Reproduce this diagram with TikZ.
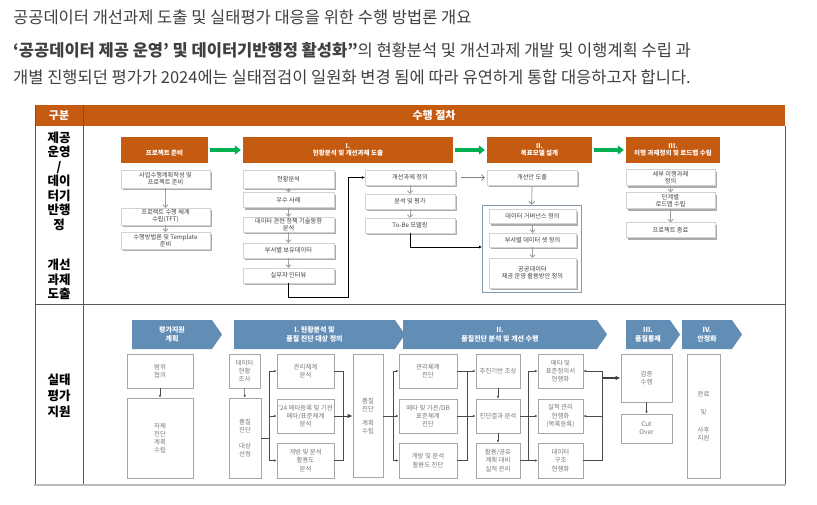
\documentclass[tikz,border=0pt]{standalone}
\usepackage{fontspec}
\setmainfont{Noto Sans CJK KR}
\usepackage{xcolor}
\usetikzlibrary{arrows.meta,shapes.symbols,shadows}
\definecolor{hdrorange}{RGB}{197,90,17}
\definecolor{stepgreen}{RGB}{0,176,80}
\definecolor{chevblue}{RGB}{98,142,182}
\definecolor{txtgray}{RGB}{64,64,64}
\definecolor{cellgray}{RGB}{120,120,120}
\definecolor{linegray}{RGB}{166,166,166}
\definecolor{grpblue}{RGB}{132,150,176}

\begin{document}
\begin{tikzpicture}[x=1pt,y=-1pt,
  lead/.style={anchor=west, inner sep=0pt, text=txtgray, font=\fontsize{16.5}{19}\selectfont},
  hdrcell/.style={fill=hdrorange, text=white, inner sep=0pt, font=\bfseries\fontsize{11}{13}\selectfont},
  rowlbl/.style={align=center, inner sep=0pt, font=\bfseries\fontsize{12.5}{14.5}\selectfont},
  stage/.style={fill=hdrorange, text=white, align=center, inner sep=0pt, minimum height=26pt, font=\bfseries\fontsize{6.5}{7.5}\selectfont},
  subbox/.style={draw=gray!35, fill=white, drop shadow={shadow xshift=2pt, shadow yshift=-2pt, fill=gray!65, opacity=1}, text=txtgray, align=center, inner sep=0pt, font=\fontsize{6.2}{7}\selectfont},
  chev/.style={signal, signal from=nowhere, signal to=east, signal pointer angle=110, fill=chevblue, text=white, align=center, inner sep=0pt, minimum height=29pt, font=\bfseries\fontsize{7}{8.5}\selectfont},
  cell/.style={draw=linegray, line width=0.8pt, fill=white, text=cellgray, align=center, inner sep=0pt, font=\fontsize{6.4}{8.2}\selectfont},
  go/.style={draw=stepgreen, line width=3.5pt, shorten <=2pt, shorten >=2pt, -{Triangle[length=6pt,width=9pt]}},
  down/.style={draw=gray!75, line width=0.9pt, -{Straight Barb[length=2.5pt,width=5pt]}},
  graylink/.style={draw=gray, line width=0.7pt, -{Straight Barb[length=3pt,width=6pt]}},
  link/.style={draw=black, line width=0.6pt, -{Latex[length=3pt,width=3pt]}},
  wire/.style={draw=gray!60!black, line width=0.6pt},
  tip/.style={wire, -{Latex[length=2.8pt,width=2.6pt]}},
  bigtip/.style={draw=gray!50!black, line width=1.3pt, -{Latex[length=5pt,width=4.5pt]}}]
\useasboundingbox (0,0) rectangle (817,504);
\fill[white] (0,0) rectangle (817,504);

\node[lead] (t1) at (13,17) {공공데이터 개선과제 도출 및 실태평가 대응을 위한 수행 방법론 개요};
\node[lead] (t2) at (13,50) {\textbf{‘공공데이터 제공 운영’  및 데이터기반행정 활성화”}의 현황분석 및 개선과제 개발 및 이행계획 수립 과};
\node[lead] (t3) at (13,77) {개별 진행되던 평가가 2024에는 실태점검이 일원화 변경 됨에 따라 유연하게 통합 대응하고자 합니다.};

\node[hdrcell, minimum width=48pt, minimum height=21pt] (gubun) at (59,115.5) {구분};
\node[hdrcell, minimum width=702pt, minimum height=21pt] (proc) at (434,115.5) {수행 절차};
\draw[draw=gray!70!black, line width=0.9pt] (35,105) -- (35,485) (83,105) -- (83,485) (35,304) -- (785,304) (785,126) -- (785,485);
\draw[draw=gray!55, line width=2pt] (34,485) -- (786,485);

\node[rowlbl] (lbl1) at (59,216) {제공\\운영\\/\\데이\\터기\\반행\\정\\[26pt]개선\\과제\\도출};
\node[rowlbl] (lbl2) at (59,396) {실태\\[1.5pt]평가\\[1.5pt]지원};

\node[stage, minimum width=87pt] (prep) at (164.5,150) {\phantom{I.}\\프로젝트 준비};
\node[stage, minimum width=210pt] (stg1) at (348,150) {I.\\현황분석 및 개선과제 도출};
\node[stage, minimum width=105pt] (stg2) at (539.5,150) {II.\\목표모델 설계};
\node[stage, minimum width=94pt] (stg3) at (673,150) {III.\\이행 과제정의 및 로드맵 수립};
\draw[go] (prep) -- (stg1);
\draw[go] (stg1) -- (stg2);
\draw[go] (stg2) -- (stg3);

\node[subbox, minimum width=89pt, minimum height=18pt] (a1) at (165.5,179) {사업수행계획작성 및\\프로젝트 준비};
\node[subbox, minimum width=89pt, minimum height=17pt] (a2) at (165.5,216.5) {프로젝트 수행 체계\\수립(TFT)};
\node[subbox, minimum width=89pt, minimum height=17pt] (a3) at (165.5,240.5) {수행방법론 및 Template\\준비};
\draw[down] (a1) -- (a2);
\draw[down] (a2) -- (a3);

\node[subbox, minimum width=91pt, minimum height=18pt] (b1) at (288.5,179) {현황분석};
\node[subbox, minimum width=91pt, minimum height=15pt] (b2) at (288.5,200) {우수 사례};
\node[subbox, minimum width=91pt, minimum height=15pt] (b3) at (288.5,224.5) {데이터 관련 정책 기술동향\\분석};
\node[subbox, minimum width=91pt, minimum height=15pt] (b4) at (288.5,250.5) {부서별 보유데이터};
\node[subbox, minimum width=91pt, minimum height=15pt] (b5) at (288.5,275.5) {실무자 인터뷰};
\draw[down] (b1) -- (b2);
\draw[down] (b2) -- (b3);
\draw[down] (b3) -- (b4);
\draw[down] (b4) -- (b5);

\node[subbox, minimum width=90pt, minimum height=15pt] (c1) at (410,177.5) {개선과제 정의};
\node[subbox, minimum width=90pt, minimum height=15pt] (c2) at (410,201.5) {분석 및 평가};
\node[subbox, minimum width=90pt, minimum height=15pt] (c3) at (410,225.5) {To-Be 모델링};
\draw[down] (c1) -- (c2);
\draw[down] (c2) -- (c3);
\coordinate (loopbot) at (348,297);
\draw[link] (b5.south) |- (loopbot) |- (c1.west);

\node[subbox, minimum width=90pt, minimum height=15pt] (d1) at (532,177.5) {개선안 도출};
\node[draw=grpblue, line width=0.8pt, minimum width=99pt, minimum height=87pt, inner sep=0pt] (grp) at (531.5,248.5) {};
\node[subbox, minimum width=87pt, minimum height=14pt] (d2) at (532.5,216.5) {데이터 거버넌스 정의};
\node[subbox, minimum width=87pt, minimum height=14pt] (d3) at (532.5,240) {부서별 데이터 셋 정의};
\node[subbox, minimum width=87pt, minimum height=30pt] (d4) at (532.5,273) {공공데이터\\제공 운영  활용방안 정의};
\draw[down] (d2) -- (d3);
\draw[down] (d3) -- (d4);
\draw[graylink, shorten <=6pt, shorten >=2pt] (c1) -- (d1);
\draw[graylink, shorten <=2pt] (d1) -- (grp);
\coordinate (grpin) at (482,247);
\draw[link] (c3.south) |- (grpin);

\node[subbox, minimum width=89pt, minimum height=16pt] (e1) at (670.5,177.5) {세부 이행과제\\정의};
\node[subbox, minimum width=89pt, minimum height=16pt] (e2) at (670.5,200.5) {단계별\\로드맵 수립};
\node[subbox, minimum width=89pt, minimum height=15pt] (e3) at (670.5,230) {프로젝트 종료};
\draw[down] (e1) -- (e2);
\draw[down] (e2) -- (e3);

\node[chev, minimum width=90pt] (ch0) at (172,334.5) {평가지원\\계획};
\node[chev, minimum width=171pt] (ch1) at (314.5,334.5) {I. 현황분석 및\\품질 진단 대상 정의};
\node[chev, minimum width=204pt] (ch2) at (500,334.5) {II.\\품질진단 분석 및 개선 수행};
\node[chev, minimum width=54pt] (ch3) at (648,334.5) {III.\\품질통제};
\node[chev, minimum width=60pt] (ch4) at (707,334.5) {IV.\\안정화};

\node[cell, minimum width=66pt, minimum height=34pt] (f1) at (160,371) {범위\\협의};
\node[cell, minimum width=66pt, minimum height=80pt] (f2) at (160,438) {자체\\진단\\계획\\수립};
\draw[tip] (f1) -- (f2);

\node[cell, minimum width=31pt, minimum height=34pt] (g1) at (244.5,371) {데이터\\현황\\조사};
\node[cell, minimum width=32pt, minimum height=80pt] (g2) at (245,438) {품질\\진단\\[8pt]대상\\선정};
\draw[tip] (g1) -- (g2);

\node[cell, minimum width=57pt, minimum height=34pt] (h1) at (305.5,371) {관리체계\\분석};
\node[cell, minimum width=57pt, minimum height=34pt] (h2) at (305.5,416) {‘24 메타등록 및 기관\\메타/표준체계\\분석};
\node[cell, minimum width=57pt, minimum height=35pt] (h3) at (305.5,460.5) {개방 및 분석\\활용도\\분석};
\coordinate (hfork) at (269,438);
\draw[wire] (g2.east) -- (hfork);
\draw[tip] (hfork) |- (h1.west);
\draw[tip] (hfork) |- (h2.west);
\draw[tip] (hfork) |- (h3.west);

\node[cell, minimum width=30pt, minimum height=123pt] (i1) at (368,416) {품질\\진단\\[6pt]계획\\수립};
\coordinate (hmerge) at (343,416);
\draw[wire] (h1.east) -| (hmerge);
\draw[wire] (h3.east) -| (hmerge);
\draw[bigtip, line width=0.8pt] (h2.east) -- (i1.west);

\node[cell, minimum width=58pt, minimum height=34pt] (j1) at (428,371) {관리체계\\진단};
\node[cell, minimum width=58pt, minimum height=34pt] (j2) at (428,416) {메타 및 기관/DB\\표준체계\\진단};
\node[cell, minimum width=58pt, minimum height=35pt] (j3) at (428,460.5) {개방 및 분석\\활용도 진단};
\coordinate (jfork) at (393,416);
\draw[wire] (i1.east) -- (jfork);
\draw[tip] (jfork) |- (j1.west);
\draw[tip] (jfork) -- (j2.west);
\draw[tip] (jfork) |- (j3.west);

\node[cell, minimum width=44pt, minimum height=34pt] (k1) at (498,371) {추진기반 조성};
\node[cell, minimum width=44pt, minimum height=34pt] (k2) at (498,416) {진단결과 분석};
\node[cell, minimum width=44pt, minimum height=35pt] (k3) at (498,460.5) {활용/공유\\계획 대비\\실적 관리};
\coordinate (jmerge) at (467,371);
\draw[tip] (j1.east) -- (k1.west);
\draw[tip] (j2.east) -- (k2.west);
\draw[wire] (j3.east) -| (jmerge);
\draw[tip] (k1) -- (k2);
\draw[tip] (k2) -- (k3);

\node[cell, minimum width=45pt, minimum height=34pt] (l1) at (560.5,371) {메타 및\\표준정의서\\현행화};
\node[cell, minimum width=45pt, minimum height=34pt] (l2) at (560.5,416) {실적 관리\\현행화\\(목록등록)};
\node[cell, minimum width=45pt, minimum height=35pt] (l3) at (560.5,460.5) {데이터\\구조\\현행화};
\coordinate (kmerge) at (528,460.5);
\draw[wire] (k3.east) -- (kmerge);
\draw[tip] (kmerge) -- (l3.west);
\draw[tip] (kmerge) |- (l1.west);
\draw[tip] (k2.east) -- (l2.west);

\node[cell, minimum width=51pt, minimum height=48pt] (m1) at (646.5,378) {검증\\수행};
\node[cell, minimum width=51pt, minimum height=29pt] (m2) at (646.5,428.5) {Cut\\Over};
\draw[tip] (m1) -- (m2);
\coordinate (lmerge) at (602,378);
\draw[tip] (lmerge) |- (l1.east);
\draw[tip] (lmerge) |- (l2.east);
\draw[wire] (lmerge) |- (l3.east);
\draw[bigtip] (lmerge) -- (m1.west);

\node[cell, minimum width=33pt, minimum height=124pt] (n1) at (703.5,416) {완료\\[10pt]및\\[10pt]사후\\지원};
\end{tikzpicture}
\end{document}
